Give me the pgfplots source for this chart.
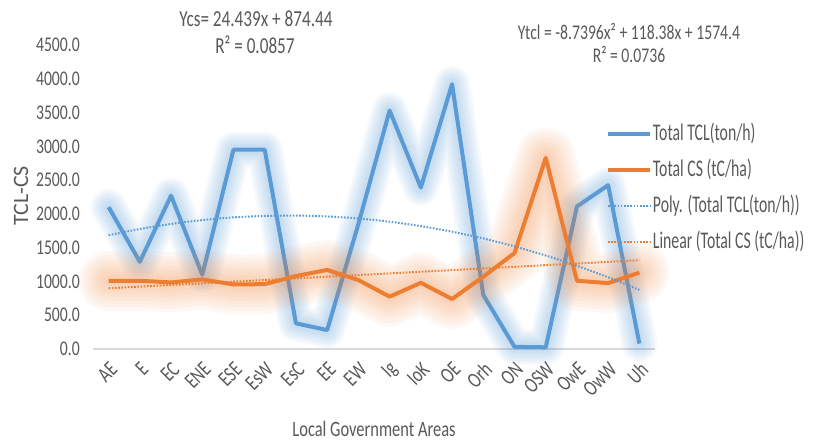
\documentclass[border=0pt]{standalone}
\usepackage{pgfplots}
\usepackage{pgfplotstable}
\pgfplotsset{compat=1.18}
\usepackage{fontspec}
\setmainfont{Carlito}[FakeStretch=0.75]
\newfontfamily\plainfont{Carlito}
\newfontfamily\legfont{Carlito}[FakeStretch=0.66]
\definecolor{tclblue}{RGB}{91,155,213}
\definecolor{csorange}{RGB}{237,125,49}
\definecolor{txt}{RGB}{89,89,89}
\definecolor{axgray}{RGB}{217,217,217}

\pgfplotstableread{
x tcl cs poly
0 2100 1010 1684
1 1290 1010 1776
2 2270 985 1851
3 1100 1030 1908
4 2950 955 1948
5 2950 960 1970
6 380 1080 1975
7 280 1170 1962
8 1850 1020 1932
9 3530 775 1884
10 2390 980 1819
11 3920 740 1736
12 800 1070 1636
13 32 1420 1519
14 25 2830 1384
15 2110 1010 1231
16 2425 975 1061
17 80 1130 874
}\datatable

\pgfplotstableread{
x lin
0 898.9
17 1314.3
}\lintable

\begin{document}
\begin{tikzpicture}[x=1bp,y=1bp]
\useasboundingbox (-93,-93) rectangle (725,349);
\begin{axis}[
  at={(0,0)}, anchor=south west,
  scale only axis, width=562bp, height=304bp,
  xmin=-0.5, xmax=17.5, ymin=0, ymax=4500,
  axis x line*=bottom, axis y line*=left,
  x axis line style={draw=axgray, line width=1.5bp},
  y axis line style={draw=none},
  major tick length=0pt,
  tick style={draw=none},
  xtick={0,...,17},
  xticklabels={AE,E,EC,ENE,ESE,EsW,EsC,EE,EW,Ig,IoK,OE,Orh,ON,OSW,OwE,OwW,Uh},
  ytick={0,500,...,4500},
  yticklabels={0.0,500.0,1000.0,1500.0,2000.0,2500.0,3000.0,3500.0,4000.0,4500.0},
  xticklabel style={xshift=5bp, yshift=-17bp, rotate=45, anchor=east, inner sep=0pt,
    font=\fontsize{22}{26}\selectfont, text=txt},
  yticklabel style={anchor=east, inner sep=0pt, xshift=-13bp,
    font=\fontsize{21}{25}\selectfont, text=txt},
  clip=false,
  legend cell align=left,
  legend image code/.code={\draw[#1] (0bp,0bp) -- (42bp,0bp);},
  legend style={at={(0.907,0.757)}, anchor=north west, draw=none, fill=none,
    font=\legfont\fontsize{24}{29}\selectfont, text=txt, row sep=11bp,
    nodes={inner sep=1bp, text height=18bp, text depth=5bp}},
  glowb/.style={tclblue, opacity=0.05, line join=round, line cap=round, forget plot},
  glowo/.style={csorange, opacity=0.05, line join=round, line cap=round, forget plot},
]
% blue glow
\addplot[glowb, line width=36bp] table[x=x,y=tcl]{\datatable};
\addplot[glowb, line width=32bp] table[x=x,y=tcl]{\datatable};
\addplot[glowb, line width=28bp] table[x=x,y=tcl]{\datatable};
\addplot[glowb, line width=24bp] table[x=x,y=tcl]{\datatable};
\addplot[glowb, line width=20bp] table[x=x,y=tcl]{\datatable};
\addplot[glowb, line width=16bp] table[x=x,y=tcl]{\datatable};
\addplot[glowb, line width=12bp] table[x=x,y=tcl]{\datatable};
\addplot[glowb, line width=8bp] table[x=x,y=tcl]{\datatable};
\addplot[tclblue, line width=4bp, line join=round] table[x=x,y=tcl]{\datatable};
\addlegendentry{Total TCL(ton/h)}
% orange glow
\addplot[glowo, line width=60bp] table[x=x,y=cs]{\datatable};
\addplot[glowo, line width=53bp] table[x=x,y=cs]{\datatable};
\addplot[glowo, line width=46bp] table[x=x,y=cs]{\datatable};
\addplot[glowo, line width=39bp] table[x=x,y=cs]{\datatable};
\addplot[glowo, line width=32bp] table[x=x,y=cs]{\datatable};
\addplot[glowo, line width=25bp] table[x=x,y=cs]{\datatable};
\addplot[glowo, line width=18bp] table[x=x,y=cs]{\datatable};
\addplot[glowo, line width=11bp] table[x=x,y=cs]{\datatable};
\addplot[csorange, line width=4bp, line join=round] table[x=x,y=cs]{\datatable};
\addlegendentry{Total CS (tC/ha)}
% trend lines
\addplot[tclblue, line width=2bp, dash pattern=on 1.6bp off 1.6bp, smooth] table[x=x,y=poly]{\datatable};
\addlegendentry{Poly. (Total TCL(ton/h))}
\addplot[csorange, line width=2bp, dash pattern=on 1.6bp off 1.6bp] table[x=x,y=lin]{\lintable};
\addlegendentry{Linear (Total CS (tC/ha))}
\end{axis}
\node[text=txt, font=\fontsize{23}{27}\selectfont] at (163,330) {Ycs= 24.439x + 874.44};
\node[text=txt, font=\fontsize{23}{27}\selectfont] at (162,304) {R² = 0.0857};
\node[text=txt, font=\fontsize{21}{25}\selectfont] at (536,317) {Ytcl = -8.7396x² + 118.38x + 1574.4};
\node[text=txt, font=\fontsize{21}{25}\selectfont] at (536,294) {R² = 0.0736};
\node[rotate=90, text=txt, font=\plainfont\fontsize{22}{26}\selectfont] at (-72,153) {TCL-CS};
\node[text=txt, inner sep=0pt, font=\fontsize{22}{26}\selectfont] at (281,-80) {Local Government Areas};
\end{tikzpicture}
\end{document}
